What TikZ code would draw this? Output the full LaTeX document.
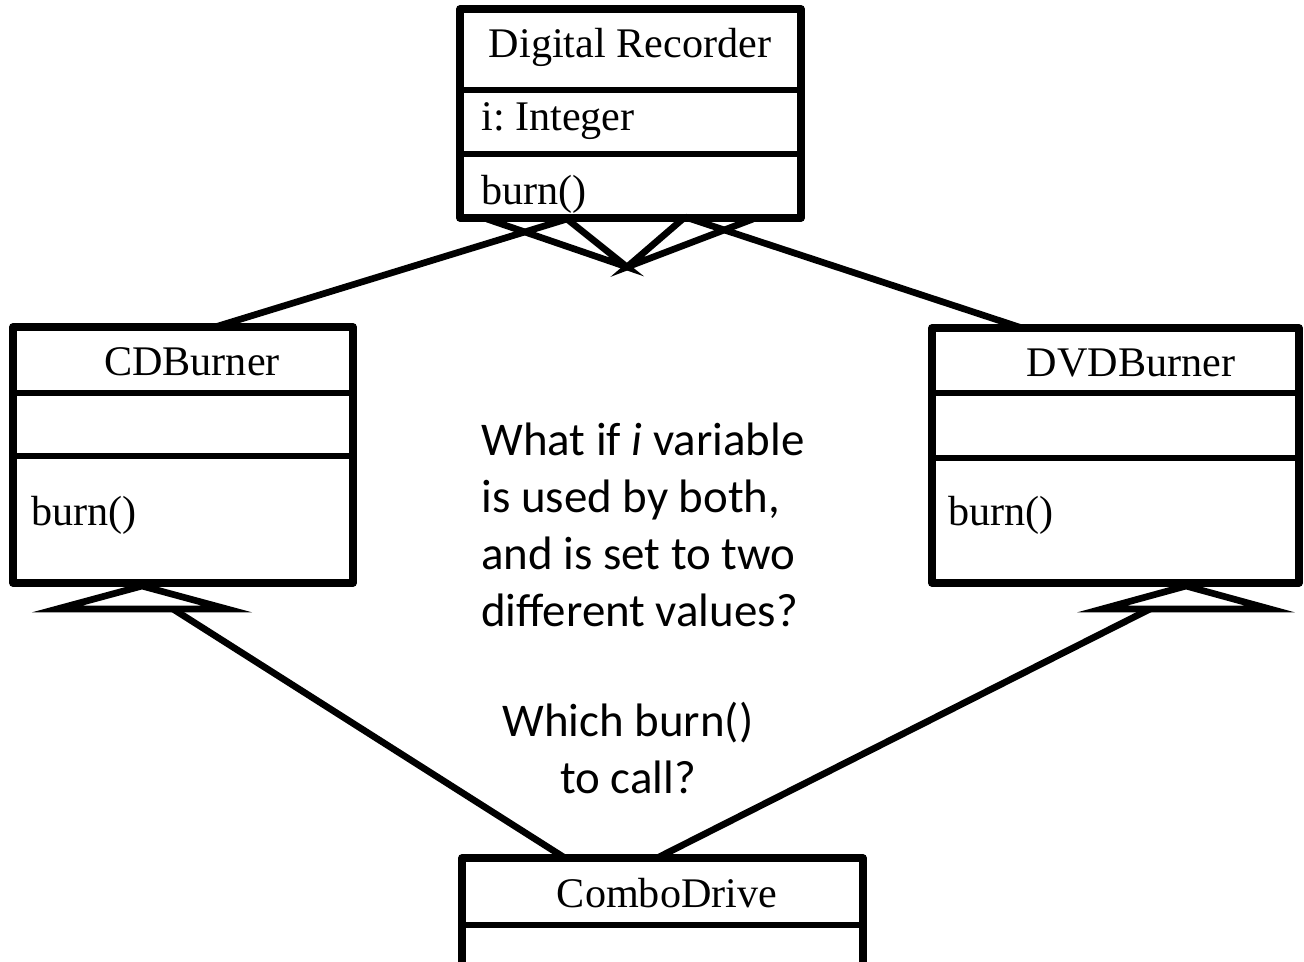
\documentclass[tikz,border=0pt]{standalone}
\usepackage{fontspec}
\setmainfont{Liberation Serif}
\newfontfamily\calibri{Carlito}
\frenchspacing

\begin{document}
\begin{tikzpicture}
    [ x = .02cm, y = -.02cm
    , classbox/.style =
      { draw, line width=4.3pt, line join=round, inner sep=0pt, outer sep=0pt, anchor=north west }
    , divider/.style =
      { line width=3.8pt }
    , edge/.style =
      { line width=3.8pt }
    , generalize/.style =
      { line width=3.8pt, line join=miter }
    , title/.style =
      { font=\fontsize{24}{28}\selectfont, inner sep=0pt }
    , member/.style =
      { title, anchor=west }
    , remark/.style =
      { font=\calibri\fontsize{26.7}{32.5}\selectfont, inner sep=0pt }
    ]
    \useasboundingbox (0,0) rectangle (1304,961);
    \clip (0,0) rectangle (1304,961);

    % classes
    \node [classbox, minimum width=6.82cm, minimum height=4.18cm] (recorder) at (460,9) {};
    \node [classbox, minimum width=6.80cm, minimum height=5.12cm] (cd) at (13,327) {};
    \node [classbox, minimum width=7.34cm, minimum height=5.10cm] (dvd) at (932,328) {};
    \node [classbox, minimum width=8.02cm, minimum height=2.90cm] (combo) at (462,858) {};

    \foreach \y in {81,145}
      \draw [divider] (recorder.north west) ++(0,\y) -- +(341,0);
    \foreach \y in {66,129}
      \draw [divider] (cd.north west) ++(0,\y) -- +(340,0);
    \foreach \y in {65,130}
      \draw [divider] (dvd.north west) ++(0,\y) -- +(367,0);
    \draw [divider] (combo.north west) ++(0,67) -- +(401,0);

    \node [title] (recname) at (630,47) {Digital Recorder};
    \node [member] (recattr) at (481,121) {i: Integer};
    \node [member] (recop) at (481,194) {burn()};
    \node [title] (cdname) at (192,362) {CDBurner};
    \node [member] (cdop) at (31,515) {burn()};
    \node [title] (dvdname) at (1131,363) {DVDBurner};
    \node [member] (dvdop) at (948,515) {burn()};
    \node [title] (comboname) at (667,893) {ComboDrive};

    % inheritance triangles
    \coordinate (topapex) at (627,267);
    \coordinate (tipL) at (567,219);
    \coordinate (tipR) at (685,217);
    \draw [generalize] (487,219) -- (topapex) -- (tipL);
    \draw [generalize] (tipR) -- (topapex) -- (753,219);
    \coordinate (cdbase) at (173,609);
    \coordinate (dvdbase) at (1150,609);
    \draw [generalize] (142,586) -- (227,609) -- (57,609) -- cycle;
    \draw [generalize] (1186,586) -- (1270,609) -- (1102,609) -- cycle;

    % connectors
    \coordinate (cdtop) at (215,327);
    \coordinate (dvdtop) at (1022,328);
    \coordinate (comboL) at (565,858);
    \coordinate (comboR) at (657,858);
    \draw [edge] (cdtop) -- (tipL);
    \draw [edge] (dvdtop) -- (tipR);
    \draw [edge] (cdbase) -- (comboL);
    \draw [edge] (dvdbase) -- (comboR);

    % questions
    \node [remark, align=left, anchor=west] (question) at (481,525)
      {What if \textit{i} variable\\is used by both,\\and is set to two\\different values?};
    \node [remark, align=center] (which) at (628,748) {Which burn()\\to call?};
\end{tikzpicture}
\end{document}
